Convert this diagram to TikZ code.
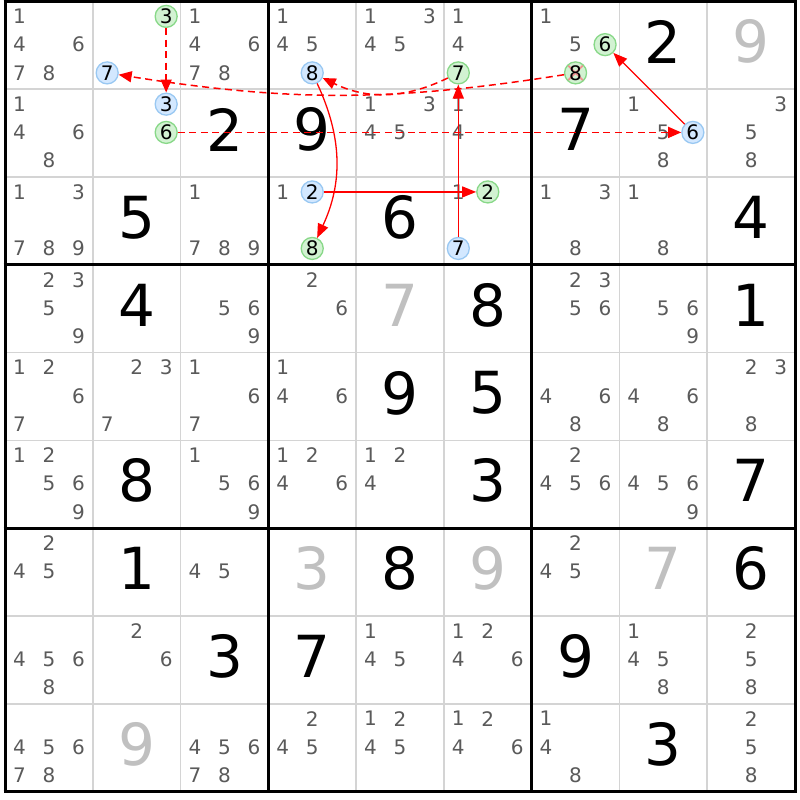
\documentclass[tikz,border=0pt]{standalone}
\usepackage{fontspec}
\setmainfont{DejaVu Sans}
\usetikzlibrary{arrows.meta}
\definecolor{candcol}{HTML}{5A5A5A}
\definecolor{solvedcol}{HTML}{C0C0C0}
\definecolor{gridthin}{HTML}{D4D4D4}
\definecolor{gfill}{HTML}{D2F2D2}
\definecolor{gstroke}{HTML}{88D888}
\definecolor{bfill}{HTML}{D3E8FF}
\definecolor{bstroke}{HTML}{99C8F2}
\definecolor{xcol}{HTML}{F09090}
\newcommand\placecand[5]{%
  \pgfmathsetmacro\cpx{5+87.78*(#2-0.5)+29.5*(mod(#3-1,3)-1)}%
  \pgfmathsetmacro\cpy{798.5-87.78*(#1-0.5)+29-28.25*floor((#3-1)/3)}%
  \node[#4] (#5) at (\cpx,\cpy) {#3};}
\begin{document}
\begin{tikzpicture}[x=1pt,y=1pt,
  candtext/.style={text=candcol,inner sep=0pt,font=\fontsize{20}{20}\selectfont},
  giventext/.style={inner sep=0pt,font=\fontsize{58}{58}\selectfont},
  gcirc/.style={circle,draw=gstroke,fill=gfill,line width=1.3pt,minimum size=22pt,inner sep=0pt,font=\fontsize{20}{20}\selectfont},
  bcirc/.style={circle,draw=bstroke,fill=bfill,line width=1.3pt,minimum size=22pt,inner sep=0pt,font=\fontsize{20}{20}\selectfont},
  xmark/.style={path picture={\draw[xcol,line width=1.8pt]
     (path picture bounding box.north west) -- (path picture bounding box.south east)
     (path picture bounding box.north east) -- (path picture bounding box.south west);}},
  dasharrow/.style={red,line width=1.5pt,dash pattern=on 7pt off 4.5pt,-{Triangle[length=13pt,width=11pt]}},
  solarrow/.style={red,line width=1.3pt,-{Triangle[length=14pt,width=11pt]}},
  thinline/.style={gridthin,line width=1.6pt},
  thickline/.style={black,line width=3pt}]
\useasboundingbox (0,0) rectangle (800,800);
\fill[white] (0,0) rectangle (800,800);
% grid
\foreach \i in {1,2,4,5,7,8}{
  \draw[thinline] ({5+87.78*\i},798.5) -- ({5+87.78*\i},8.5);
  \draw[thinline] (5,{798.5-87.78*\i}) -- (795,{798.5-87.78*\i});
}
\foreach \i in {0,3,6,9}{
  \draw[thickline] ({5+87.78*\i},{798.5+1.5}) -- ({5+87.78*\i},{8.5-1.5});
  \draw[thickline] ({5-1.5},{798.5-87.78*\i}) -- ({795+1.5},{798.5-87.78*\i});
}
% givens
\foreach \r/\c/\d/\col in {1/8/2/black,2/3/2/black,2/4/9/black,2/7/7/black,3/2/5/black,3/5/6/black,3/9/4/black,
  4/2/4/black,4/6/8/black,4/9/1/black,5/5/9/black,5/6/5/black,6/2/8/black,6/6/3/black,6/9/7/black,
  7/2/1/black,7/5/8/black,7/9/6/black,8/3/3/black,8/4/7/black,8/7/9/black,9/8/3/black,
  1/9/9/solvedcol,4/5/7/solvedcol,7/4/3/solvedcol,7/6/9/solvedcol,7/8/7/solvedcol,9/2/9/solvedcol}{
  \node[giventext,text=\col] (v\r\c) at ({5+87.78*(\c-0.5)},{798.5-87.78*(\r-0.5)+3.5}) {\d};
}
% candidates
\foreach \r/\c/\l in {1/1/{1,4,6,7,8},1/3/{1,4,6,7,8},1/4/{1,4,5},1/5/{1,3,4,5},1/6/{1,4},1/7/{1,5},
  2/1/{1,4,6,8},2/5/{1,3,4,5},2/6/{1,4},2/8/{1,5,8},2/9/{3,5,8},
  3/1/{1,3,7,8,9},3/3/{1,7,8,9},3/4/{1},3/6/{1},3/7/{1,3,8},3/8/{1,8},
  4/1/{2,3,5,9},4/3/{5,6,9},4/4/{2,6},4/7/{2,3,5,6},4/8/{5,6,9},
  5/1/{1,2,6,7},5/2/{2,3,7},5/3/{1,6,7},5/4/{1,4,6},5/7/{4,6,8},5/8/{4,6,8},5/9/{2,3,8},
  6/1/{1,2,5,6,9},6/3/{1,5,6,9},6/4/{1,2,4,6},6/5/{1,2,4},6/7/{2,4,5,6},6/8/{4,5,6,9},
  7/1/{2,4,5},7/3/{4,5},7/7/{2,4,5},
  8/1/{4,5,6,8},8/2/{2,6},8/5/{1,4,5},8/6/{1,2,4,6},8/8/{1,4,5,8},8/9/{2,5,8},
  9/1/{4,5,6,7,8},9/3/{4,5,6,7,8},9/4/{2,4,5},9/5/{1,2,4,5},9/6/{1,2,4,6},9/7/{1,4,8},9/9/{2,5,8}}{
  \foreach \d in \l {\placecand{\r}{\c}{\d}{candtext}{k\r\c\d}}
}
% highlighted candidates
\placecand{1}{2}{3}{gcirc}{g123}
\placecand{1}{2}{7}{bcirc}{b127}
\placecand{2}{2}{3}{bcirc}{b223}
\placecand{2}{2}{6}{gcirc}{g226}
\placecand{1}{4}{8}{bcirc}{b148}
\placecand{1}{6}{7}{gcirc}{g167}
\placecand{1}{7}{6}{gcirc}{g176}
\placecand{1}{7}{8}{gcirc,xmark}{g178}
\placecand{2}{8}{6}{bcirc}{b286}
\placecand{3}{4}{2}{bcirc}{b342}
\placecand{3}{4}{8}{gcirc}{g348}
\placecand{3}{6}{2}{gcirc}{g362}
\placecand{3}{6}{7}{bcirc}{b367}
% links
\draw[dasharrow] (g123) -- (b223);
\draw[dasharrow] (g178) to[bend left=9] (b127);
\draw[dasharrow] (g167) to[bend left=26] (b148);
\draw[dasharrow] (g226) -- (b286);
\draw[solarrow] (b286) -- (g176);
\draw[solarrow] (b342) -- (g362);
\draw[solarrow] (b367) -- (g167);
\draw[solarrow] (b148) to[bend left=25] (g348);
\end{tikzpicture}
\end{document}
